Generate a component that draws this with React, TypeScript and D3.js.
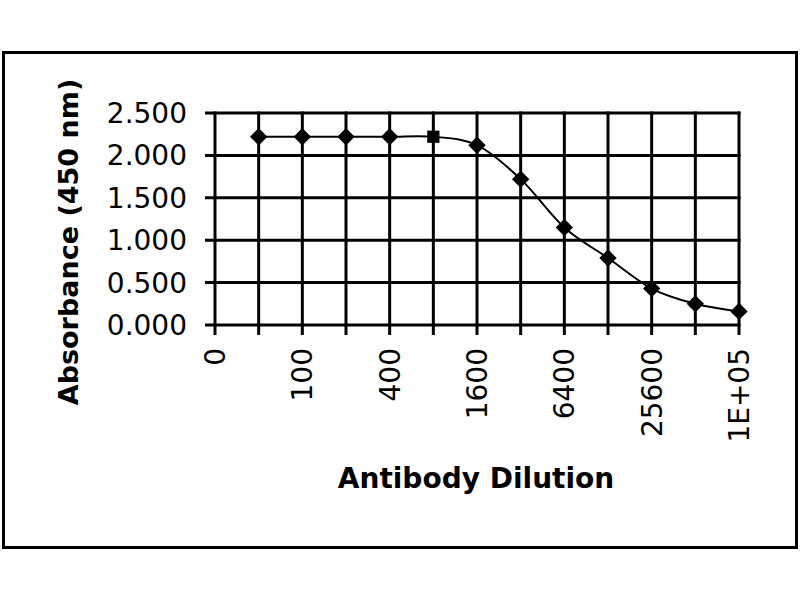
import React, { useEffect, useRef } from 'react';
import * as d3 from 'd3';

// Dilution categories along the x axis (Excel category axis)
const dilutions = ['0', '50', '100', '200', '400', '800', '1600', '3200', '6400', '12800', '25600', '51200', '1E+05'];
// Categories that carry a tick label
const labelledDilutions = ['0', '100', '400', '1600', '6400', '25600', '1E+05'];
// Measured points (the "0" category has no reading)
const measuredDilutions = ['50', '100', '200', '400', '800', '1600', '3200', '6400', '12800', '25600', '51200', '1E+05'];
const absorbance = [2.22, 2.22, 2.22, 2.22, 2.22, 2.12, 1.72, 1.15, 0.79, 0.43, 0.25, 0.16];
const yTicks = [0, 0.5, 1, 1.5, 2, 2.5];

const FONT = '"DejaVu Sans", Verdana, sans-serif';

const App: React.FC = () => {
  const svgRef = useRef<SVGSVGElement>(null);

  useEffect(() => {
    if (!svgRef.current) return;
    const svg = d3.select(svgRef.current);
    svg.selectAll('*').remove();

    const plot = { left: 215, right: 739, top: 113, bottom: 325 };

    svg.append('rect')
      .attr('width', 800)
      .attr('height', 600)
      .attr('fill', '#ffffff');

    // outer chart border
    svg.append('rect')
      .attr('x', 3.5)
      .attr('y', 52.5)
      .attr('width', 793)
      .attr('height', 495)
      .attr('fill', 'none')
      .attr('stroke', '#000')
      .attr('stroke-width', 3);

    const x = d3.scalePoint<string>()
      .domain(dilutions)
      .range([plot.left, plot.right]);

    const y = d3.scaleLinear()
      .domain([0, 2.5])
      .range([plot.bottom, plot.top]);

    const g = svg.append('g');

    // vertical grid
    g.selectAll('.grid-x')
      .data(dilutions)
      .enter()
      .append('line')
      .attr('x1', d => x(d)!)
      .attr('x2', d => x(d)!)
      .attr('y1', plot.top - 1.5)
      .attr('y2', plot.bottom + 10)
      .attr('stroke', '#000')
      .attr('stroke-width', 3);

    // horizontal grid
    g.selectAll('.grid-y')
      .data(yTicks)
      .enter()
      .append('line')
      .attr('x1', plot.left - 10)
      .attr('x2', plot.right + 1.5)
      .attr('y1', d => y(d))
      .attr('y2', d => y(d))
      .attr('stroke', '#000')
      .attr('stroke-width', 3);

    // y tick labels
    g.selectAll('.ylab')
      .data(yTicks)
      .enter()
      .append('text')
      .attr('x', 187)
      .attr('y', d => y(d))
      .attr('dy', '0.36em')
      .attr('text-anchor', 'end')
      .attr('font-family', FONT)
      .attr('font-size', 28)
      .attr('fill', '#000')
      .text(d => d3.format('.3f')(d));

    // x tick labels, rotated
    g.selectAll('.xlab')
      .data(labelledDilutions)
      .enter()
      .append('text')
      .attr('transform', d => `translate(${x(d)},348) rotate(-90)`)
      .attr('dy', '0.36em')
      .attr('text-anchor', 'end')
      .attr('font-family', FONT)
      .attr('font-size', 28)
      .attr('fill', '#000')
      .text(d => d);

    // axis titles
    svg.append('text')
      .attr('transform', 'translate(78,242) rotate(-90)')
      .attr('text-anchor', 'middle')
      .attr('font-family', FONT)
      .attr('font-weight', 'bold')
      .attr('font-size', 27)
      .attr('fill', '#000')
      .text('Absorbance (450 nm)');

    svg.append('text')
      .attr('x', 476)
      .attr('y', 488)
      .attr('text-anchor', 'middle')
      .attr('font-family', FONT)
      .attr('font-weight', 'bold')
      .attr('font-size', 28)
      .attr('fill', '#000')
      .text('Antibody Dilution');

    // smoothed series line
    const points = measuredDilutions.map((d, i) => ({ d, v: absorbance[i] }));
    const line = d3.line<{ d: string; v: number }>()
      .x(p => x(p.d)!)
      .y(p => y(p.v))
      .curve(d3.curveCardinal.tension(0));

    g.append('path')
      .datum(points)
      .attr('fill', 'none')
      .attr('stroke', '#000')
      .attr('stroke-width', 2)
      .attr('d', line);

    // markers: diamonds, one square at 800
    const marker = d3.symbol().type(d3.symbolSquare).size(150);
    g.selectAll('.marker')
      .data(points)
      .enter()
      .append('path')
      .attr('d', marker)
      .attr('transform', p =>
        `translate(${x(p.d)},${y(p.v)}) rotate(${p.d === '800' ? 0 : 45})`)
      .attr('fill', '#000');
  }, []);

  return (
    <svg
      ref={svgRef}
      width="800"
      height="600"
      style={{ position: 'absolute', left: 0, top: 0, display: 'block' }}
    />
  );
};

export default App;
